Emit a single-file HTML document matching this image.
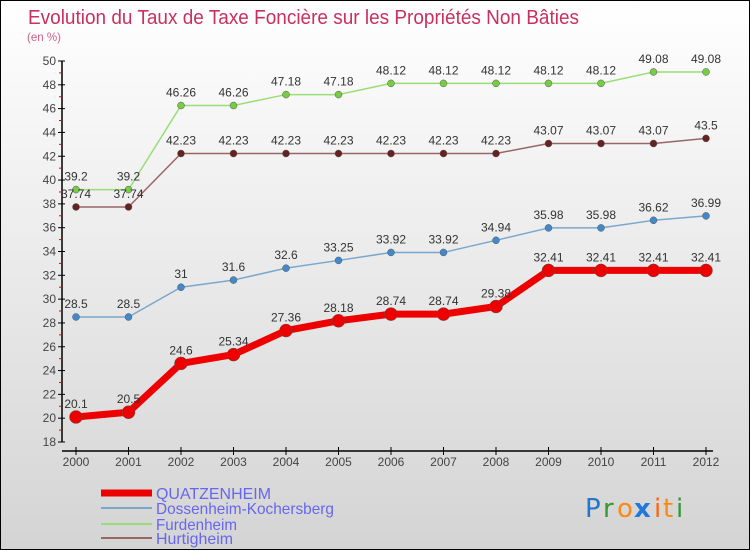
<!DOCTYPE html>
<html><head><meta charset="utf-8"><style>
body{margin:0}
#wrap{width:748px;height:548px;border:1px solid #000;background:linear-gradient(#ffffff,#d4d4d4);position:relative;font-family:"Liberation Sans","DejaVu Sans",sans-serif;overflow:hidden}
svg{position:absolute;left:0;top:0}
</style></head><body>
<div id="wrap">
<svg id="c" width="748" height="548" font-family="'Liberation Sans','DejaVu Sans',sans-serif">
<text x="27" y="23" font-size="20" fill="#c8305f" textLength="551" lengthAdjust="spacingAndGlyphs">Evolution du Taux de Taxe Foncière sur les Propriétés Non Bâties</text>
<text x="26" y="40" font-size="12" fill="#d0608a" textLength="34" lengthAdjust="spacingAndGlyphs">(en %)</text>
<g id="legend">
<line x1="100" y1="492" x2="151" y2="492" stroke="#ee0000" stroke-width="7"/>
<text x="155" y="498" font-size="16" fill="#6666ee" textLength="115" lengthAdjust="spacingAndGlyphs">QUATZENHEIM</text>
<line x1="100" y1="507" x2="151" y2="507" stroke="#7aa8cc" stroke-width="2"/>
<text x="155" y="513" font-size="16" fill="#6666ee" textLength="178" lengthAdjust="spacingAndGlyphs">Dossenheim-Kochersberg</text>
<line x1="100" y1="523" x2="151" y2="523" stroke="#99dd77" stroke-width="2"/>
<text x="155" y="529" font-size="16" fill="#6666ee" textLength="81" lengthAdjust="spacingAndGlyphs">Furdenheim</text>
<line x1="100" y1="537" x2="151" y2="537" stroke="#996666" stroke-width="2"/>
<text x="155" y="543" font-size="16" fill="#6666ee" textLength="77" lengthAdjust="spacingAndGlyphs">Hurtigheim</text>
</g>
<g font-size="26" font-family="'DejaVu Sans',sans-serif">
<text x="584" y="516" fill="#2277cc">P</text><text x="602" y="516" fill="#339933">r</text><text x="616" y="516" fill="#ff8811">o</text><text x="633" y="516" fill="#2277dd" font-weight="bold">x</text><text x="653" y="516" fill="#ff6611">i</text><text x="662" y="516" fill="#ff8811">t</text><text x="675" y="516" fill="#339933">i</text>
</g>
</svg>
</div>
<script>
const years=["2000","2001","2002","2003","2004","2005","2006","2007","2008","2009","2010","2011","2012"];
const quatzenheim=[20.1,20.5,24.6,25.34,27.36,28.18,28.74,28.74,29.38,32.41,32.41,32.41,32.41];
const dossenheim=[28.5,28.5,31,31.6,32.6,33.25,33.92,33.92,34.94,35.98,35.98,36.62,36.99];
const furdenheim=[39.2,39.2,46.26,46.26,47.18,47.18,48.12,48.12,48.12,48.12,48.12,49.08,49.08];
const hurtigheim=[37.74,37.74,42.23,42.23,42.23,42.23,42.23,42.23,42.23,43.07,43.07,43.07,43.5];
const yTicks=[18,20,22,24,26,28,30,32,34,36,38,40,42,44,46,48,50];
const NS="http://www.w3.org/2000/svg",svg=document.getElementById('c');
const xS=i=>75+i*52.5, yS=v=>441-(v-18)*381/32;
function mk(t,a,p){const e=document.createElementNS(NS,t);for(const k in a)e.setAttribute(k,a[k]);(p||svg).appendChild(e);return e;}
const ax=mk('g',{});


const yl=mk('line',{x1:61,y1:yS(50),x2:61,y2:yS(18),stroke:'#000','stroke-width':1.5},ax);


yTicks.forEach(v=>{
 const y=yS(v);
 mk('line',{x1:57,y1:y,x2:64,y2:y,stroke:'#000'},ax);
 if(v<50) mk('line',{x1:58,y1:yS(v+1),x2:61,y2:yS(v+1),stroke:'#e00'},ax);
 const t=mk('text',{x:55,y:y+4,'font-size':12,'text-anchor':'end',fill:'#444'},ax);t.textContent=v;
 
 
});
const xl=mk('line',{x1:61,y1:450,x2:712,y2:450,stroke:'#000','stroke-width':1.5},ax);


years.forEach((yr,i)=>{
 mk('line',{x1:xS(i),y1:446,x2:xS(i),y2:454,stroke:'#000'},ax);
 const t=mk('text',{x:xS(i),y:465,'font-size':12,'text-anchor':'middle',fill:'#444'},ax);t.textContent=yr;
 
 
});
function series(name,data,color,dot,w,r){
 const g=mk('g',{});
 
 
 const l=mk('polyline',{points:data.map((v,i)=>xS(i)+','+yS(v)).join(' '),fill:'none',stroke:color,'stroke-width':w,'stroke-linejoin':'round'},g);
 
 
 data.forEach((v,i)=>{
  const c=mk('circle',{cx:xS(i),cy:yS(v),r:r,fill:dot,stroke:'#555','stroke-width':0.5},g);
  
  
  const t=mk('text',{x:xS(i),y:yS(v)-9,'font-size':12,'text-anchor':'middle',fill:'#333'},g);t.textContent=v;
  
  
 });
}
series('furdenheim',furdenheim,'#99dd77','#77cc44',1.5,3.5);
series('hurtigheim',hurtigheim,'#996666','#662222',1.5,3.5);
series('dossenheim',dossenheim,'#7aa8cc','#4488cc',1.5,3.5);
series('quatzenheim',quatzenheim,'#ee0000','#ee0000',7,6.5);
</script>
</body></html>
